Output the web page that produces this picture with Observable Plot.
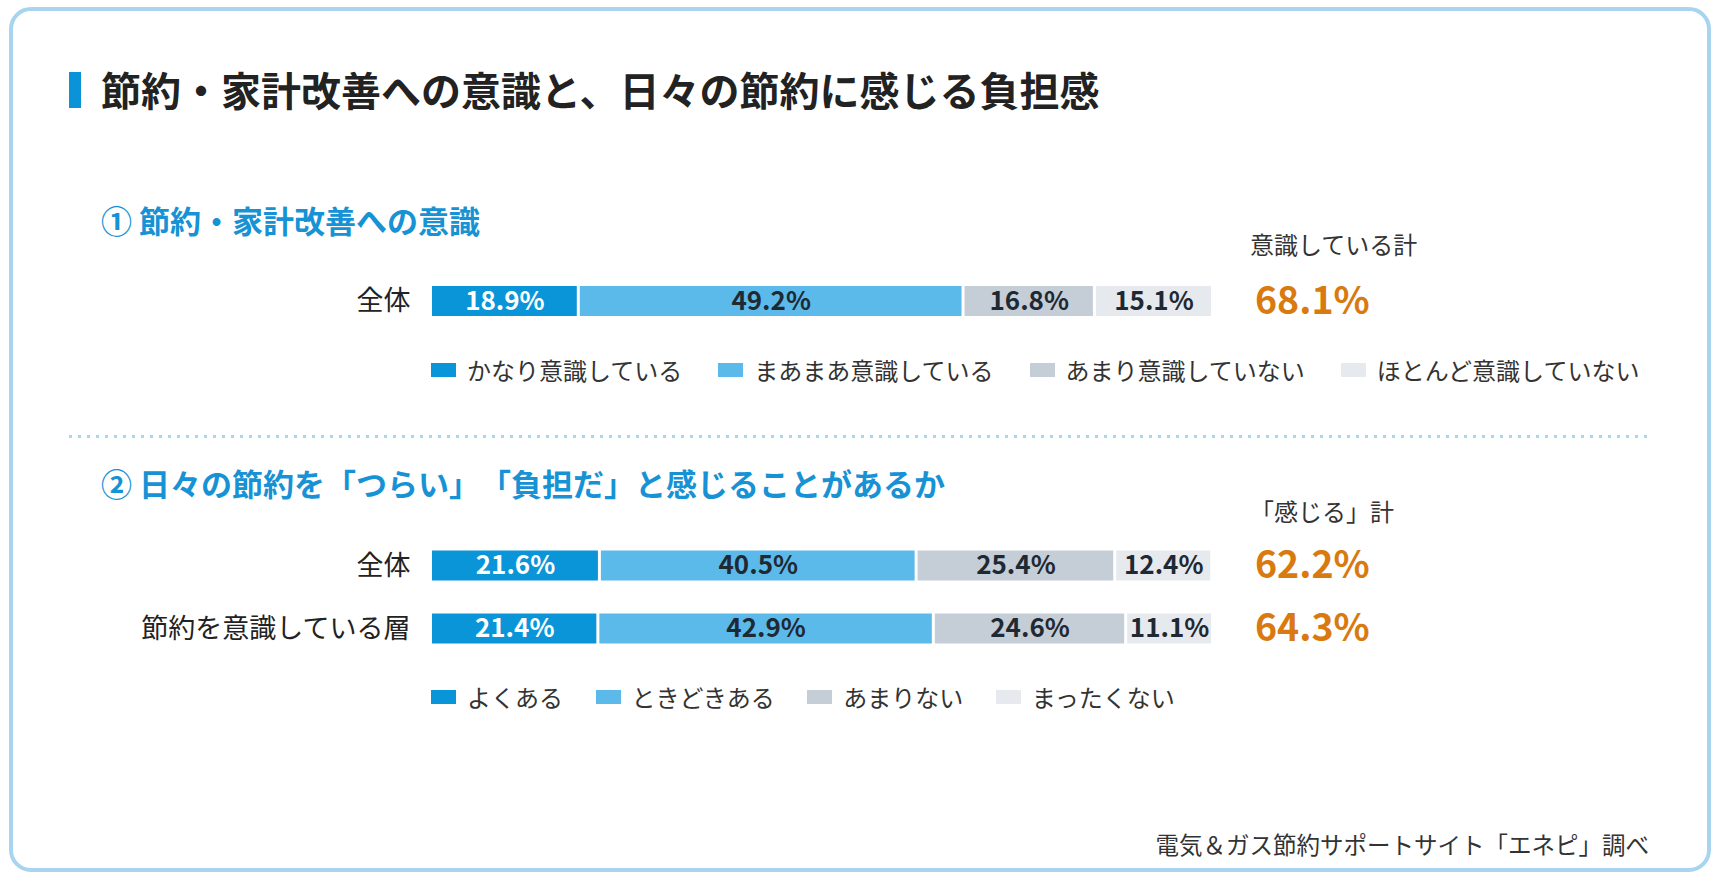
<!DOCTYPE html>
<html lang="ja">
<head>
<meta charset="utf-8">
<script src="https://cdn.jsdelivr.net/npm/d3@7"></script>
<script src="https://cdn.jsdelivr.net/npm/@observablehq/plot@0.6"></script>
<style>
  html, body { margin: 0; padding: 0; background: #fff; }
  body { width: 1720px; height: 880px; position: relative; overflow: hidden;
         font-family: "Noto Sans CJK JP", "Noto Sans", sans-serif; color: #222;
         text-spacing-trim: space-all; }
  .abs { position: absolute; line-height: 1; white-space: nowrap; }
  #frame { position: absolute; left: 9px; top: 7px; width: 1702px; height: 865px;
           box-sizing: border-box; border: 4px solid #a7d5ef; border-radius: 22px; }
  #accent { position: absolute; left: 69px; top: 72px; width: 12px; height: 36px; background: #0a93d7; }
  #title { left: 101px; top: 69px; font-size: 40px; font-weight: 700; color: #222; }
  .sec { left: 101px; font-size: 31px; font-weight: 700; color: #1692d5; }
  .sub { left: 1250px; font-size: 24px; color: #333; }
  #sep { position: absolute; left: 69px; top: 435px; width: 1582px; height: 3px;
         background: repeating-linear-gradient(to right, #a9d6ef 0 3px, transparent 3px 9px); }
  #caption { right: 71px; top: 833px; font-size: 23.5px; color: #333; }
  .leg { position: absolute; left: 431px; }
  .leg > div { margin: 0 !important; min-height: 34px !important; display: flex !important;
               align-items: center !important; font-size: 24px !important; color: #333 !important;
               font-family: "Noto Sans CJK JP", sans-serif !important; line-height: 1; }
  .leg > div > :not(style) { display: inline-flex !important; align-items: center !important; }
  #leg1 > div > :not(style) { margin-right: 36px !important; }
  #leg2 > div > :not(style) { margin-right: 32.5px !important; }
  .leg svg { margin-right: 11px !important; }
  .chart { position: absolute; left: 0; }
</style>
</head>
<body>
<div id="frame"></div>
<div id="accent"></div>
<div id="title" class="abs">節約・家計改善への意識と、日々の節約に感じる負担感</div>
<div class="abs sec" style="top:204px">① 節約・家計改善への意識</div>
<div class="abs sub" style="top:232px">意識している計</div>
<div id="chart1" class="chart" style="top:271px"></div>
<div id="leg1" class="leg" style="top:353px"></div>
<div id="sep"></div>
<div class="abs sec" style="top:467px">② 日々の節約を「つらい」「負担だ」と感じることがあるか</div>
<div class="abs sub" style="top:499px">「感じる」計</div>
<div id="chart2" class="chart" style="top:534px"></div>
<div id="leg2" class="leg" style="top:680px"></div>
<div id="caption" class="abs">電気＆ガス節約サポートサイト「エネピ」調べ</div>

<script>
// ---- data ----
const q1Groups = ["全体"];
const q1Categories = ["かなり意識している", "まあまあ意識している", "あまり意識していない", "ほとんど意識していない"];
const q1Values = [[18.9, 49.2, 16.8, 15.1]];
const q1Totals = [68.1];

const q2Groups = ["全体", "節約を意識している層"];
const q2Categories = ["よくある", "ときどきある", "あまりない", "まったくない"];
const q2Values = [
  [21.6, 40.5, 25.4, 12.4],
  [21.4, 42.9, 24.6, 11.1]
];
const q2Totals = [62.2, 64.3];

const segmentColors = ["#0a95d9", "#5cbaea", "#c5cdd6", "#e6e9ed"];
const totalColor = "#d97a10";
const fontFamily = "'Noto Sans CJK JP', 'Noto Sans', sans-serif";

function makeChart(groups, categories, values, totals, rowH) {
  const rows = groups.flatMap((g, i) => categories.map((c, j) => ({group: g, cat: c, idx: j, value: values[i][j]})));
  const tot = groups.map((g, i) => ({group: g, total: totals[i]}));
  const inset = (rowH - 30) / 2;
  const fmt = v => v.toFixed(1) + "%";
  return Plot.plot({
    width: 1720,
    height: rowH * groups.length,
    marginLeft: 430.5,
    marginRight: 1720 - 1212.5,
    marginTop: 0,
    marginBottom: 0,
    x: {domain: [0, 100], axis: null},
    y: {domain: groups, padding: 0},
    color: {domain: categories, range: segmentColors},
    style: {fontFamily, color: "#222", background: "transparent", overflow: "visible"},
    marks: [
      Plot.barX(rows, Plot.stackX({x: "value", y: "group", fill: "cat",
        insetLeft: 1.5, insetRight: 1.5, insetTop: inset, insetBottom: inset})),
      Plot.text(rows, Plot.stackX({x: "value", y: "group", z: "cat",
        text: d => d.idx === 0 ? fmt(d.value) : "",
        fill: "white", fontSize: 26, fontWeight: 700})),
      Plot.text(rows, Plot.stackX({x: "value", y: "group", z: "cat",
        text: d => d.idx !== 0 ? fmt(d.value) : "",
        fill: "#1f2933", fontSize: 26, fontWeight: 700})),
      Plot.text(tot, {y: "group", frameAnchor: "right", dx: 42, textAnchor: "start",
        text: d => fmt(d.total), fill: totalColor, fontSize: 37.5, fontWeight: 700}),
      Plot.axisY({tickSize: 0, tickPadding: 20.5, fontSize: 27, label: null, fill: "#222"})
    ]
  });
}

function makeLegend(categories) {
  return Plot.legend({
    color: {domain: categories, range: segmentColors},
    swatchWidth: 25,
    swatchHeight: 14,
    className: "lg",
    style: {fontSize: "24px", fontFamily, color: "#333"}
  });
}

document.getElementById("chart1").appendChild(makeChart(q1Groups, q1Categories, q1Values, q1Totals, 60));
document.getElementById("chart2").appendChild(makeChart(q2Groups, q2Categories, q2Values, q2Totals, 63));
document.getElementById("leg1").appendChild(makeLegend(q1Categories));
document.getElementById("leg2").appendChild(makeLegend(q2Categories));
</script>
</body>
</html>
